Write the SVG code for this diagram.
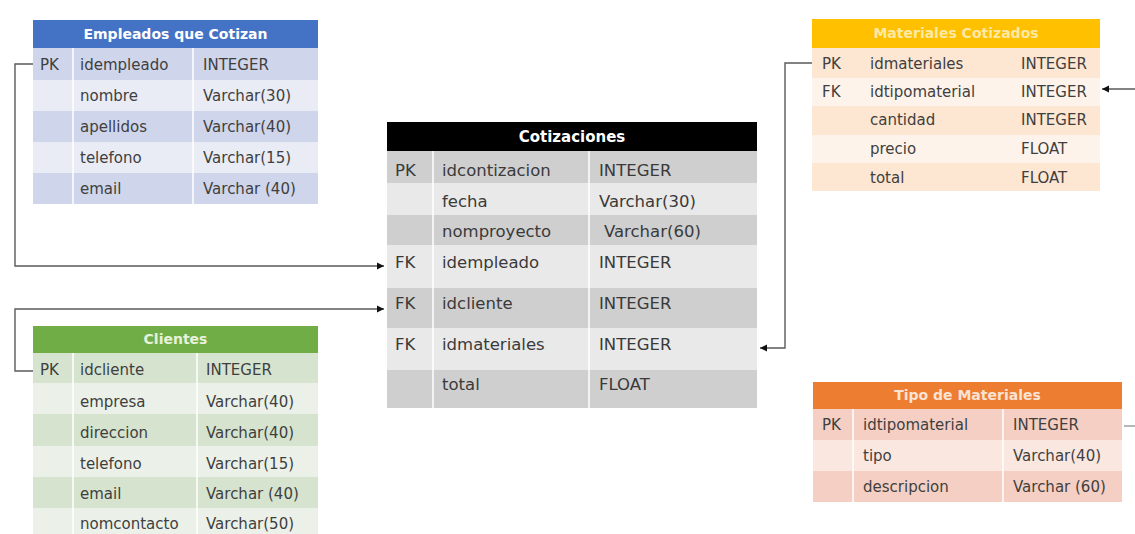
<svg xmlns="http://www.w3.org/2000/svg" width="1135" height="534" viewBox="0 0 1135 534">
<style>
text{font-family:"DejaVu Sans","Liberation Sans",sans-serif;}
.t{font-size:15px;fill:#3f3f3f;}
.tc{font-size:16.5px;fill:#3a3a3a;}
.h{font-size:14px;font-weight:bold;fill:#ffffff;}
.sep{stroke:#ffffff;stroke-width:1.5;}
.conn{fill:none;stroke:#5a5a5a;stroke-width:1.4;}
</style>
<defs>
<marker id="arr" markerWidth="8" markerHeight="8" refX="7" refY="4" orient="auto" markerUnits="userSpaceOnUse">
<path d="M0,0.5 L7,4 L0,7.5 Z" fill="#111"/>
</marker>
</defs>
<rect width="1135" height="534" fill="#ffffff"/>

<g id="empleados">
<rect x="33" y="20" width="285" height="28" fill="#4472c4"/>
<text class="h" x="175.5" y="39" text-anchor="middle">Empleados que Cotizan</text>
<rect x="33" y="48" width="285" height="32" fill="#cfd5ea"/>
<rect x="33" y="80" width="285" height="31" fill="#e9ebf5"/>
<rect x="33" y="111" width="285" height="31" fill="#cfd5ea"/>
<rect x="33" y="142" width="285" height="31" fill="#e9ebf5"/>
<rect x="33" y="173" width="285" height="31" fill="#cfd5ea"/>
<line class="sep" x1="73" y1="48" x2="73" y2="204"/>
<line class="sep" x1="193" y1="48" x2="193" y2="204"/>
<text class="t" x="40" y="70">PK</text><text class="t" x="80" y="70">idempleado</text><text class="t" x="203" y="70">INTEGER</text>
<text class="t" x="80" y="101">nombre</text><text class="t" x="203" y="101">Varchar(30)</text>
<text class="t" x="80" y="132">apellidos</text><text class="t" x="203" y="132">Varchar(40)</text>
<text class="t" x="80" y="163">telefono</text><text class="t" x="203" y="163">Varchar(15)</text>
<text class="t" x="80" y="194">email</text><text class="t" x="203" y="194">Varchar (40)</text>
</g>

<g id="cotizaciones">
<rect x="387" y="122" width="370" height="29" fill="#000000"/>
<text class="h" x="572" y="142" text-anchor="middle" style="font-size:15px">Cotizaciones</text>
<rect x="387" y="151" width="370" height="32" fill="#cfcfcf"/>
<rect x="387" y="183" width="370" height="32" fill="#e9e9e9"/>
<rect x="387" y="215" width="370" height="30" fill="#cfcfcf"/>
<rect x="387" y="245" width="370" height="43" fill="#e9e9e9"/>
<rect x="387" y="288" width="370" height="40" fill="#cfcfcf"/>
<rect x="387" y="328" width="370" height="42" fill="#e9e9e9"/>
<rect x="387" y="370" width="370" height="38" fill="#cfcfcf"/>
<line class="sep" x1="433" y1="151" x2="433" y2="408"/>
<line class="sep" x1="589" y1="151" x2="589" y2="408"/>
<text class="tc" x="395" y="176">PK</text><text class="tc" x="442" y="176">idcontizacion</text><text class="tc" x="599" y="176">INTEGER</text>
<text class="tc" x="442" y="207">fecha</text><text class="tc" x="599" y="207">Varchar(30)</text>
<text class="tc" x="442" y="237">nomproyecto</text><text class="tc" x="604" y="237">Varchar(60)</text>
<text class="tc" x="395" y="268">FK</text><text class="tc" x="442" y="268">idempleado</text><text class="tc" x="599" y="268">INTEGER</text>
<text class="tc" x="395" y="309">FK</text><text class="tc" x="442" y="309">idcliente</text><text class="tc" x="599" y="309">INTEGER</text>
<text class="tc" x="395" y="350">FK</text><text class="tc" x="442" y="350">idmateriales</text><text class="tc" x="599" y="350">INTEGER</text>
<text class="tc" x="442" y="390">total</text><text class="tc" x="599" y="390">FLOAT</text>
</g>

<g id="materiales">
<rect x="812" y="19" width="288" height="29" fill="#ffc000"/>
<text class="h" x="956" y="38" text-anchor="middle" style="fill:#fde9a6">Materiales Cotizados</text>
<rect x="812" y="48" width="288" height="30" fill="#fde6d2"/>
<rect x="812" y="78" width="288" height="28" fill="#fef3ea"/>
<rect x="812" y="106" width="288" height="29" fill="#fde6d2"/>
<rect x="812" y="135" width="288" height="28" fill="#fef3ea"/>
<rect x="812" y="163" width="288" height="28" fill="#fde6d2"/>
<text class="t" x="822" y="69">PK</text><text class="t" x="870" y="69">idmateriales</text><text class="t" x="1021" y="69">INTEGER</text>
<text class="t" x="822" y="97">FK</text><text class="t" x="870" y="97">idtipomaterial</text><text class="t" x="1021" y="97">INTEGER</text>
<text class="t" x="870" y="125">cantidad</text><text class="t" x="1021" y="125">INTEGER</text>
<text class="t" x="870" y="154">precio</text><text class="t" x="1021" y="154">FLOAT</text>
<text class="t" x="870" y="183">total</text><text class="t" x="1021" y="183">FLOAT</text>
</g>

<g id="clientes">
<rect x="33" y="326" width="285" height="27" fill="#70ad47"/>
<text class="h" x="175.5" y="344" text-anchor="middle" style="fill:#e6f2dc">Clientes</text>
<rect x="33" y="353" width="285" height="30" fill="#d6e4cf"/>
<rect x="33" y="383" width="285" height="31" fill="#ebf1e8"/>
<rect x="33" y="414" width="285" height="32" fill="#d6e4cf"/>
<rect x="33" y="446" width="285" height="31" fill="#ebf1e8"/>
<rect x="33" y="477" width="285" height="31" fill="#d6e4cf"/>
<rect x="33" y="508" width="285" height="26" fill="#ebf1e8"/>
<line class="sep" x1="73" y1="353" x2="73" y2="534"/>
<line class="sep" x1="197" y1="353" x2="197" y2="534"/>
<text class="t" x="40" y="375">PK</text><text class="t" x="80" y="375">idcliente</text><text class="t" x="206" y="375">INTEGER</text>
<text class="t" x="80" y="407">empresa</text><text class="t" x="206" y="407">Varchar(40)</text>
<text class="t" x="80" y="438">direccion</text><text class="t" x="206" y="438">Varchar(40)</text>
<text class="t" x="80" y="469">telefono</text><text class="t" x="206" y="469">Varchar(15)</text>
<text class="t" x="80" y="499">email</text><text class="t" x="206" y="499">Varchar (40)</text>
<text class="t" x="80" y="529">nomcontacto</text><text class="t" x="206" y="529">Varchar(50)</text>
</g>

<g id="tipo-materiales">
<rect x="813" y="382" width="309" height="27" fill="#ed7d31"/>
<text class="h" x="967.5" y="400" text-anchor="middle" style="fill:#fbe3d4">Tipo de Materiales</text>
<rect x="813" y="409" width="309" height="31" fill="#f5cfc3"/>
<rect x="813" y="440" width="309" height="31" fill="#fae7e0"/>
<rect x="813" y="471" width="309" height="31" fill="#f5cfc3"/>
<line class="sep" x1="853" y1="409" x2="853" y2="502"/>
<line class="sep" x1="1003" y1="409" x2="1003" y2="502"/>
<text class="t" x="822" y="430">PK</text><text class="t" x="863" y="430">idtipomaterial</text><text class="t" x="1013" y="430">INTEGER</text>
<text class="t" x="863" y="461">tipo</text><text class="t" x="1013" y="461">Varchar(40)</text>
<text class="t" x="863" y="492">descripcion</text><text class="t" x="1013" y="492">Varchar (60)</text>
</g>

<g id="connectors">
<path class="conn" d="M33,64 H15 V266 H384" marker-end="url(#arr)"/>
<path class="conn" d="M33,371 H15 V309 H384" marker-end="url(#arr)"/>
<path class="conn" d="M812,63 H785 V348 H760" marker-end="url(#arr)"/>
<path class="conn" d="M1135,89 H1102" marker-end="url(#arr)"/>
<path class="conn" d="M1124,426 H1135" style="stroke:#999"/>
</g>
</svg>
